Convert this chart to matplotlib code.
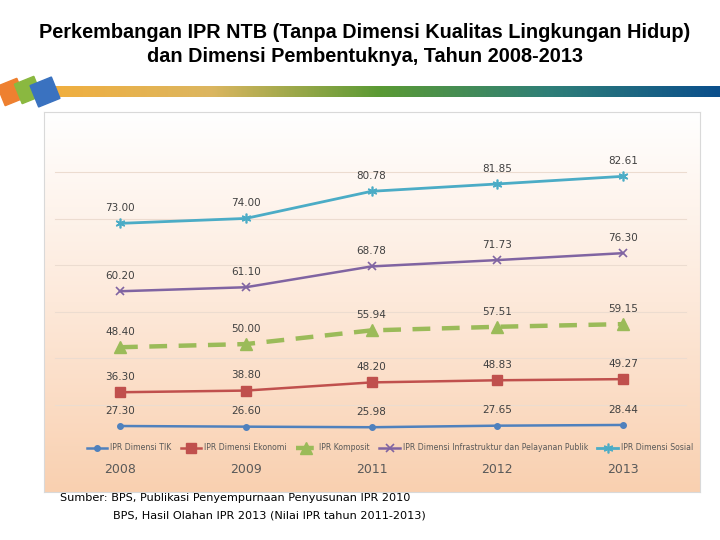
import numpy as np
from matplotlib import pyplot as plt
from matplotlib.colors import LinearSegmentedColormap
from matplotlib.patches import Polygon

years = ['2008', '2009', '2011', '2012', '2013']
ipr_tik = [27.30, 26.60, 25.98, 27.65, 28.44]
ipr_ekonomi = [36.30, 38.80, 48.20, 48.83, 49.27]
ipr_komposit = [48.40, 50.00, 55.94, 57.51, 59.15]
ipr_infra = [60.20, 61.10, 68.78, 71.73, 76.30]
ipr_sosial = [73.00, 74.00, 80.78, 81.85, 82.61]

series_names = ['IPR Dimensi TIK', 'IPR Dimensi Ekonomi', 'IPR Komposit',
                'IPR Dimensi Infrastruktur dan Pelayanan Publik', 'IPR Dimensi Sosial']

W, H = 720, 540
fig = plt.figure(figsize=(7.2, 5.4), dpi=100)
fig.patch.set_facecolor('white')

# overlay in pixel coords for decoration
deco = fig.add_axes([0, 0, 1, 1])
deco.set_xlim(0, W)
deco.set_ylim(H, 0)
deco.axis('off')

# banner gradient
banner = LinearSegmentedColormap.from_list(
    'banner', ['#f2ae3c', '#dcb660', '#5a9a34', '#2f7f78', '#0b4f8c'])
grad = np.linspace(0, 1, 256).reshape(1, -1)
deco.imshow(grad, cmap=banner, extent=(40, 720, 97, 86), aspect='auto', zorder=1)

# logo squares
def square(cx, cy, s, ang, color):
    a = np.deg2rad(ang)
    pts = np.array([[-1, -1], [1, -1], [1, 1], [-1, 1]]) * s / 2
    rot = np.array([[np.cos(a), -np.sin(a)], [np.sin(a), np.cos(a)]])
    pts = pts @ rot.T + [cx, cy]
    deco.add_patch(Polygon(pts, closed=True, color=color, zorder=3))

square(11, 92, 21, -22, '#ee8030')
square(28, 90, 21, -22, '#8ab840')
square(45, 92, 23, -22, '#3a72c0')

fig.text(0.507, 1 - 32 / H, 'Perkembangan IPR NTB (Tanpa Dimensi Kualitas Lingkungan Hidup)',
         ha='center', va='center', fontsize=14.3, fontweight='bold', family='Liberation Sans')
fig.text(0.507, 1 - 57 / H, 'dan Dimensi Pembentuknya, Tahun 2008-2013',
         ha='center', va='center', fontsize=14.3, fontweight='bold', family='Liberation Sans')

# chart box
x0, x1, y0, y1 = 44, 700, 112, 492
ax = fig.add_axes([x0 / W, 1 - y1 / H, (x1 - x0) / W, (y1 - y0) / H])
px_x = 125.75
ax.set_xlim((x0 - 120) / px_x, (x1 - 120) / px_x)
px_y = 0.93
zero = 451.4
ax.set_ylim(-(y1 - zero) / px_y, (zero - y0) / px_y)

bg = LinearSegmentedColormap.from_list('bg', ['#ffffff', '#fde9da', '#f9d0b0'])
vgrad = np.linspace(0, 1, 256).reshape(-1, 1)
ax.imshow(vgrad, cmap=bg, extent=(*ax.get_xlim(), ax.get_ylim()[0], ax.get_ylim()[1]),
          aspect='auto', origin='upper', zorder=0)
for s in ax.spines.values():
    s.set_color('#d9d9d9')
    s.set_linewidth(0.8)

for g in range(50, 301, 50):
    ax.plot([-0.52, 4.5], [g, g], color='#ecdcd0', lw=0.8, zorder=1)

x = np.arange(len(years))
values = [ipr_tik, ipr_ekonomi, ipr_komposit, ipr_infra, ipr_sosial]
stacked = np.cumsum(np.array(values), axis=0)

styles = [
    dict(color='#4f81bd', marker='o', ms=4, lw=1.8, ls='-'),
    dict(color='#c0504d', marker='s', ms=6.5, lw=1.8, ls='-'),
    dict(color='#9bbb59', marker='^', ms=8, lw=3.2, ls=(0, (4, 2.6))),
    dict(color='#8064a2', marker='x', ms=6, mew=1.2, lw=1.8, ls='-'),
    dict(color='#4bacc6', marker=(6, 2, 0), ms=7, mew=1.2, lw=2.0, ls='-'),
]

for vals, cum, name, st in zip(values, stacked, series_names, styles):
    ax.plot(x, cum, label=name, zorder=3, **st)
    for xi, yi, v in zip(x, cum, vals):
        ax.annotate(f'{v:.2f}', (xi, yi), xytext=(0, 11), textcoords='offset points',
                    ha='center', va='center', fontsize=7.5, color='#404040', zorder=4)

leg = ax.legend(loc='center', bbox_to_anchor=((390 - x0) / (x1 - x0), 1 - (448 - y0) / (y1 - y0)),
                ncol=5, fontsize=5.6, frameon=False, handlelength=2.6, columnspacing=1.2,
                handletextpad=0.4, labelcolor='#595959')

ax.set_xticks(x)
ax.set_xticklabels(years, fontsize=9, color='#595959')
ax.tick_params(axis='x', direction='in', length=0, pad=-21)
ax.set_yticks([])

fig.text(60 / W, 1 - 498 / H, 'Sumber: BPS, Publikasi Penyempurnaan Penyusunan IPR 2010',
         ha='left', va='center', fontsize=8.1, family='DejaVu Sans')
fig.text(113 / W, 1 - 516 / H, 'BPS, Hasil Olahan IPR 2013 (Nilai IPR tahun 2011-2013)',
         ha='left', va='center', fontsize=8.1, family='DejaVu Sans')

fig.savefig('out.png', dpi=100)
